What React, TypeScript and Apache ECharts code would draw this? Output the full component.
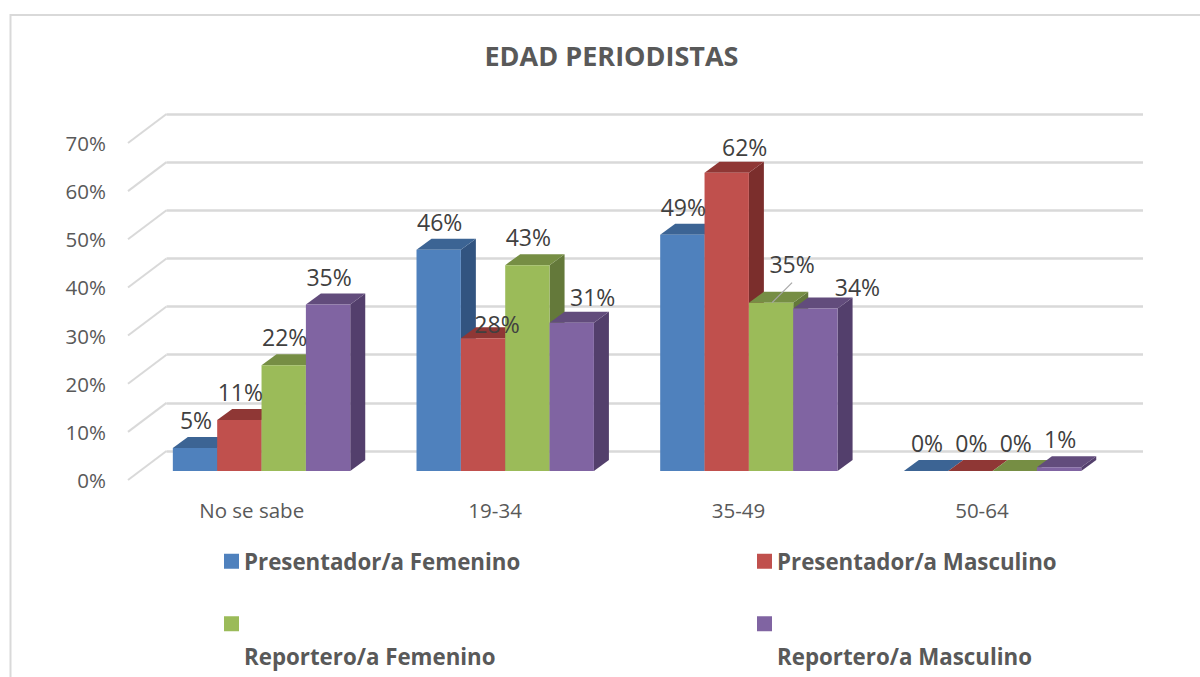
import React, { useEffect, useRef } from "react";
import * as echarts from "echarts";

const categories = ["No se sabe", "19-34", "35-49", "50-64"];
const seriesNames = [
  "Presentador/a Femenino",
  "Presentador/a Masculino",
  "Reportero/a Femenino",
  "Reportero/a Masculino",
];
const presentadorFemenino = [4.8, 46, 49.1, 0];
const presentadorMasculino = [10.6, 27.6, 62, 0];
const reporteroFemenino = [22, 42.8, 35, 0];
const reporteroMasculino = [34.6, 30.8, 33.8, 0.8];
const seriesValues = [presentadorFemenino, presentadorMasculino, reporteroFemenino, reporteroMasculino];
const tickValues = [0, 10, 20, 30, 40, 50, 60, 70];

const frontColors = ["#4f81bd", "#c0504d", "#9bbb59", "#8064a2"];
const topColors = ["#3c6494", "#8f3735", "#768e44", "#624c7c"];
const sideColors = ["#325480", "#7b2e2c", "#64793a", "#533f6c"];

const GRID_LINE = "#d9d9d9";
const BAR_RATIO = 0.182;
const DEPTH_X = 15;
const DEPTH_Y = 11;
const FONT = "'Open Sans', sans-serif";

// Hand-placed data labels, as [dx, dy] from the front top centre of a bar: "series:category"
const labelDefault = [1, -28];
const labelNudges: Record<string, number[]> = {
  "1:1": [14, -14],
  "3:1": [21, -26],
  "1:2": [18, -25.5],
  "2:2": [21, -39],
  "3:2": [42, -21],
};
const leaderKey = "2:2";

function barRenderer(sIdx: number) {
  return (params: any, api: any) => {
    const cat = api.value(0);
    const val = api.value(1);
    const band = api.size([1, 0])[0];
    const w = band * BAR_RATIO;
    const center = api.coord([cat, val]);
    const base = api.coord([cat, 0]);
    const x0 = center[0] + (sIdx - 2) * w;
    const x1 = x0 + w;
    const yTop = center[1];
    const yBase = base[1];
    const key = `${sIdx}:${cat}`;
    const nudge = labelNudges[key] || labelDefault;
    const cx = x0 + w / 2;
    const children: any[] = [
      {
        type: "polygon",
        shape: { points: [[x1, yTop], [x1 + DEPTH_X, yTop - DEPTH_Y], [x1 + DEPTH_X, yBase - DEPTH_Y], [x1, yBase]] },
        style: { fill: sideColors[sIdx] },
      },
      {
        type: "polygon",
        shape: { points: [[x0, yTop], [x0 + DEPTH_X, yTop - DEPTH_Y], [x1 + DEPTH_X, yTop - DEPTH_Y], [x1, yTop]] },
        style: { fill: topColors[sIdx] },
      },
      {
        type: "rect",
        shape: { x: x0, y: yTop, width: w, height: yBase - yTop },
        style: { fill: frontColors[sIdx] },
      },
      {
        type: "text",
        z2: 50,
        style: {
          x: cx + nudge[0],
          y: yTop + nudge[1],
          text: `${Math.round(val)}%`,
          fill: "#404040",
          font: `23px ${FONT}`,
          textAlign: "center",
          textVerticalAlign: "middle",
        },
      },
    ];
    if (key === leaderKey) {
      children.push({
        type: "line",
        z2: 40,
        shape: { x1: cx + 21, y1: yTop - 20, x2: cx + 1, y2: yTop },
        style: { stroke: "#a6a6a6", lineWidth: 1.25 },
      });
    }
    return { type: "group", children };
  };
}

function diagonalRenderer(params: any, api: any) {
  const p = api.coord([0, api.value(0)]);
  return {
    type: "line",
    shape: { x1: p[0], y1: p[1], x2: p[0] - 38.5, y2: p[1] + 29 },
    style: { stroke: GRID_LINE, lineWidth: 2 },
  };
}

function legendAt(idx: number, left: number, top: number, text: (s: string) => string) {
  return {
    show: true,
    left,
    top,
    padding: 0,
    selectedMode: false,
    icon: "rect",
    itemWidth: 15,
    itemHeight: 15,
    data: [seriesNames[idx]],
    formatter: text,
    textStyle: {
      color: "#595959",
      fontFamily: FONT,
      fontWeight: "bold",
      fontSize: 22.3,
      lineHeight: 32.5,
    },
  };
}

export default function App() {
  const ref = useRef<HTMLDivElement>(null);
  useEffect(() => {
    const chart = echarts.init(ref.current!, undefined, { renderer: "svg" });
    const oneLine = (s: string) => s;
    const belowIcon = (s: string) => `\n\n${s}`;
    chart.setOption({
      animation: false,
      backgroundColor: "#ffffff",
      title: {
        text: "EDAD PERIODISTAS",
        left: 606.5,
        top: 37,
        textAlign: "center",
        textStyle: { color: "#595959", fontFamily: FONT, fontWeight: "bold", fontSize: 27 },
      },
      legend: [
        legendAt(0, 224, 545, oneLine),
        legendAt(1, 757, 545, oneLine),
        legendAt(2, 224, 575, belowIcon),
        legendAt(3, 757, 575, belowIcon),
      ],
      graphic: [
        {
          type: "polyline",
          silent: true,
          shape: { points: [[10.5, 677], [10.5, 15], [1200, 15]] },
          style: { stroke: GRID_LINE, lineWidth: 2, fill: "none" },
        },
      ],
      grid: [
        { left: 139.7, width: 974.7, top: 134.3, height: 336.7 },
        { left: 166.5, width: 976.5, top: 114, height: 337 },
        { left: 130, width: 973.6, top: 143, height: 337 },
      ],
      xAxis: [
        { gridIndex: 0, type: "category", data: categories, show: false },
        { gridIndex: 1, type: "value", min: 0, max: 1, show: false },
        {
          gridIndex: 2,
          type: "category",
          data: categories,
          axisLine: { show: false },
          axisTick: { show: false },
          axisLabel: { color: "#595959", fontFamily: FONT, fontSize: 20.5, margin: 19 },
        },
      ],
      yAxis: [
        { gridIndex: 0, type: "value", min: 0, max: 70, interval: 10, show: false },
        {
          gridIndex: 1,
          type: "value",
          min: 0,
          max: 70,
          interval: 10,
          axisLine: { show: false },
          axisTick: { show: false },
          axisLabel: { show: false },
          splitLine: { show: true, lineStyle: { color: GRID_LINE, width: 2.5 } },
        },
        {
          gridIndex: 2,
          type: "value",
          min: 0,
          max: 70,
          interval: 10,
          axisLine: { show: false },
          axisTick: { show: false },
          splitLine: { show: false },
          axisLabel: { formatter: "{value}%", color: "#595959", fontFamily: FONT, fontSize: 20.5, margin: 24 },
        },
      ],
      series: [
        {
          type: "custom",
          name: "walls",
          xAxisIndex: 1,
          yAxisIndex: 1,
          z: 1,
          silent: true,
          clip: false,
          data: tickValues.map((v) => [v]),
          encode: { y: 0 },
          renderItem: diagonalRenderer,
        },
        ...seriesNames.map((name, sIdx) => ({
          type: "custom",
          name,
          xAxisIndex: 0,
          yAxisIndex: 0,
          z: 2,
          clip: false,
          itemStyle: { color: frontColors[sIdx] },
          encode: { x: 0, y: 1 },
          data: seriesValues[sIdx].map((v, i) => [i, v]),
          renderItem: barRenderer(sIdx),
        })),
      ],
    });
    return () => chart.dispose();
  }, []);
  return <div ref={ref} style={{ position: "fixed", left: 0, top: 0, width: 1200, height: 677 }} />;
}
